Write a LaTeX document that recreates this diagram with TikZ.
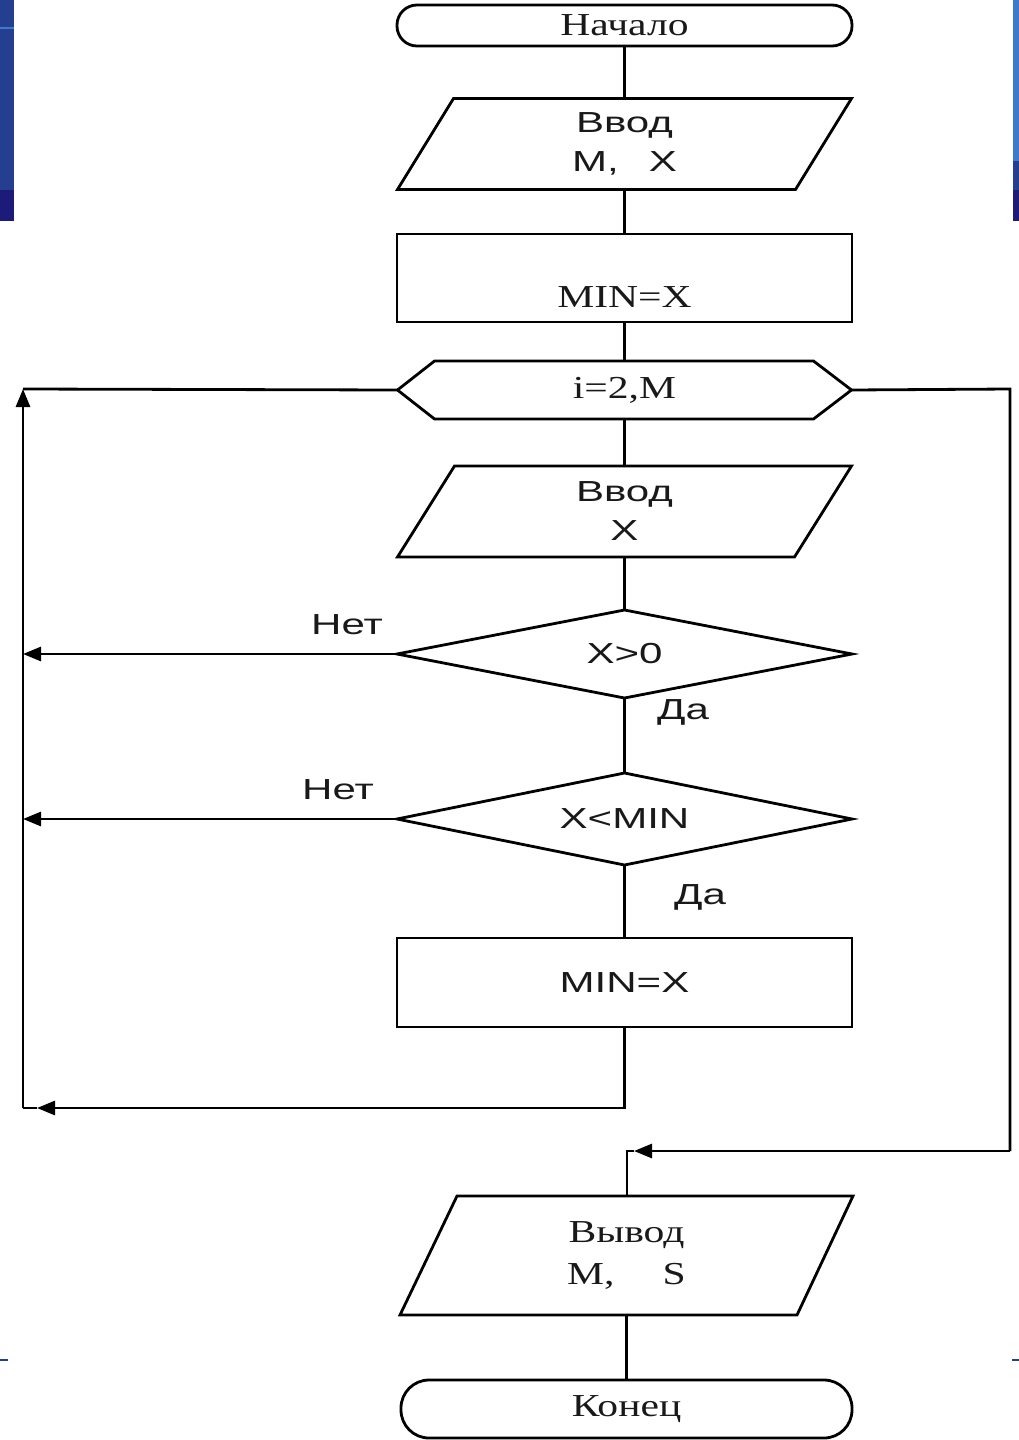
\documentclass[tikz,border=0pt]{standalone}
\usepackage{fontspec}
\setmainfont{Liberation Serif}
\newfontfamily\serifx{Liberation Serif}[FakeStretch=1.3]
\newfontfamily\sansx{Liberation Sans}[FakeStretch=1.45]
\usetikzlibrary{arrows.meta}
\definecolor{bmid}{HTML}{243F8F}
\definecolor{blite}{HTML}{3E7ACC}
\definecolor{bnavy}{HTML}{1C1B7A}
\tikzset{
  ln/.style={line width=2.8pt, draw=black},
  tri/.style={-{Triangle[length=18pt,width=14pt]}},
  hold/.style 2 args={minimum width=#1, minimum height=#2, inner sep=0pt, outer sep=0pt, align=center},
  serifbig/.style={font=\serifx\fontsize{32}{42}\selectfont, text=black!90},
  sansbig/.style={font=\sansx\fontsize{29}{39}\selectfont, text=black!90},
}
\begin{document}
\begin{tikzpicture}[x=1pt,y=-1pt]
\useasboundingbox (0,0) rectangle (1019,1440);
% slide decorations
\fill[bmid] (0,0) rectangle (14,190);
\fill[blite] (0,27) rectangle (14,29);
\fill[bnavy] (0,190) rectangle (14,221);
\fill[blite] (1013,0) rectangle (1019,161);
\fill[bmid] (1013,161) rectangle (1019,190);
\fill[bnavy] (1013,190) rectangle (1019,221);
\fill[bmid] (0,1359) rectangle (8,1361);
\fill[bmid] (1012,1359) rectangle (1019,1361);

% start
\node[hold={455}{41}, serifbig] (start) at (624.5,25.5) {Начало};
\draw[ln, rounded corners=20pt] (start.south west) rectangle (start.north east);

% input M, X
\node[hold={454}{91}, sansbig] (in1) at (624.5,144) {Ввод\\M,\hspace{30pt}X};
\draw[ln] (in1.south west) -- ([xshift=-56pt]in1.south east) -- (in1.north east) -- ([xshift=56pt]in1.north west) -- cycle;

% MIN=X (first)
\node[hold={455}{88}, ln, draw] (box1) at (624.5,278) {};
\node[serifbig, inner sep=0pt] (box1t) at (624.5,297) {MIN=X};

% loop hexagon
\node[hold={454}{58}, serifbig] (hex) at (624.5,390) {i=2,M};
\draw[ln] (hex.west) -- ([xshift=37pt]hex.north west) -- ([xshift=-38pt]hex.north east) -- (hex.east) -- ([xshift=-38pt]hex.south east) -- ([xshift=37pt]hex.south west) -- cycle;

% input X
\node[hold={454}{91}, sansbig] (in2) at (624.5,511.5) {Ввод\\X};
\draw[ln] (in2.south west) -- ([xshift=-57pt]in2.south east) -- (in2.north east) -- ([xshift=57pt]in2.north west) -- cycle;

% decision X>0
\node[hold={455}{88}, sansbig] (d1) at (624.5,654) {X>0};
\draw[ln] (d1.north) -- (d1.east) -- (d1.south) -- (d1.west) -- cycle;

% decision X<MIN
\node[hold={455}{92}, sansbig] (d2) at (624.5,819) {X<MIN};
\draw[ln] (d2.north) -- (d2.east) -- (d2.south) -- (d2.west) -- cycle;

% MIN=X (second)
\node[hold={455}{89}, ln, draw, sansbig] (box2) at (624.5,982.5) {MIN=X};

% output
\node[hold={453}{119}, serifbig] (out) at (626.5,1255.5) {Вывод\\M,\hspace{48pt}S};
\draw[ln] (out.south west) -- ([xshift=-56pt]out.south east) -- (out.north east) -- ([xshift=57pt]out.north west) -- cycle;

% end
\node[hold={451}{58}, serifbig] (end) at (626.5,1409) {Конец};
\draw[ln, rounded corners=28pt] (end.south west) rectangle (end.north east);

% labels
\node[sansbig] (no1) at (347,625) {Нет};
\node[sansbig] (yes1) at (683,712) {Да};
\node[sansbig] (no2) at (338,790) {Нет};
\node[sansbig] (yes2) at (700,897) {Да};

% coordinates for loops
\coordinate (tl) at (23,389);
\coordinate (bl) at (23,1108);
\coordinate (blA) at (37,1108);
\coordinate (r1) at (1010,389);
\coordinate (r2) at (1010,1151);
\coordinate (jn) at (627,1151);
\coordinate (jnA) at (634,1151);

% main flow
\draw[ln] (start.south) -- (in1.north);
\draw[ln] (in1.south) -- (box1.north);
\draw[ln] (box1.south) -- (hex.north);
\draw[ln] (hex.south) -- (in2.north);
\draw[ln] (in2.south) -- (d1.north);
\draw[ln] (d1.south) -- (d2.north);
\draw[ln] (d2.south) -- (box2.north);
\draw[ln] (out.south) -- (end.north);

% no branches
\draw[ln, tri] (d1.west) -- (d1.west -| tl);
\draw[ln, tri] (d2.west) -- (d2.west -| tl);

% loop return
\draw[ln, tri] (box2.south) |- (blA);
\draw[ln] (blA) -- (bl);
\draw[ln, tri] (bl) -- (tl);
\draw[ln] (tl) -- (hex.west);

% loop exit
\draw[ln] (hex.east) -- (r1) -- (r2);
\draw[ln, tri] (r2) -- (jnA);
\draw[ln] (jnA) -- (jn) -- (jn |- out.north);
\end{tikzpicture}
\end{document}
